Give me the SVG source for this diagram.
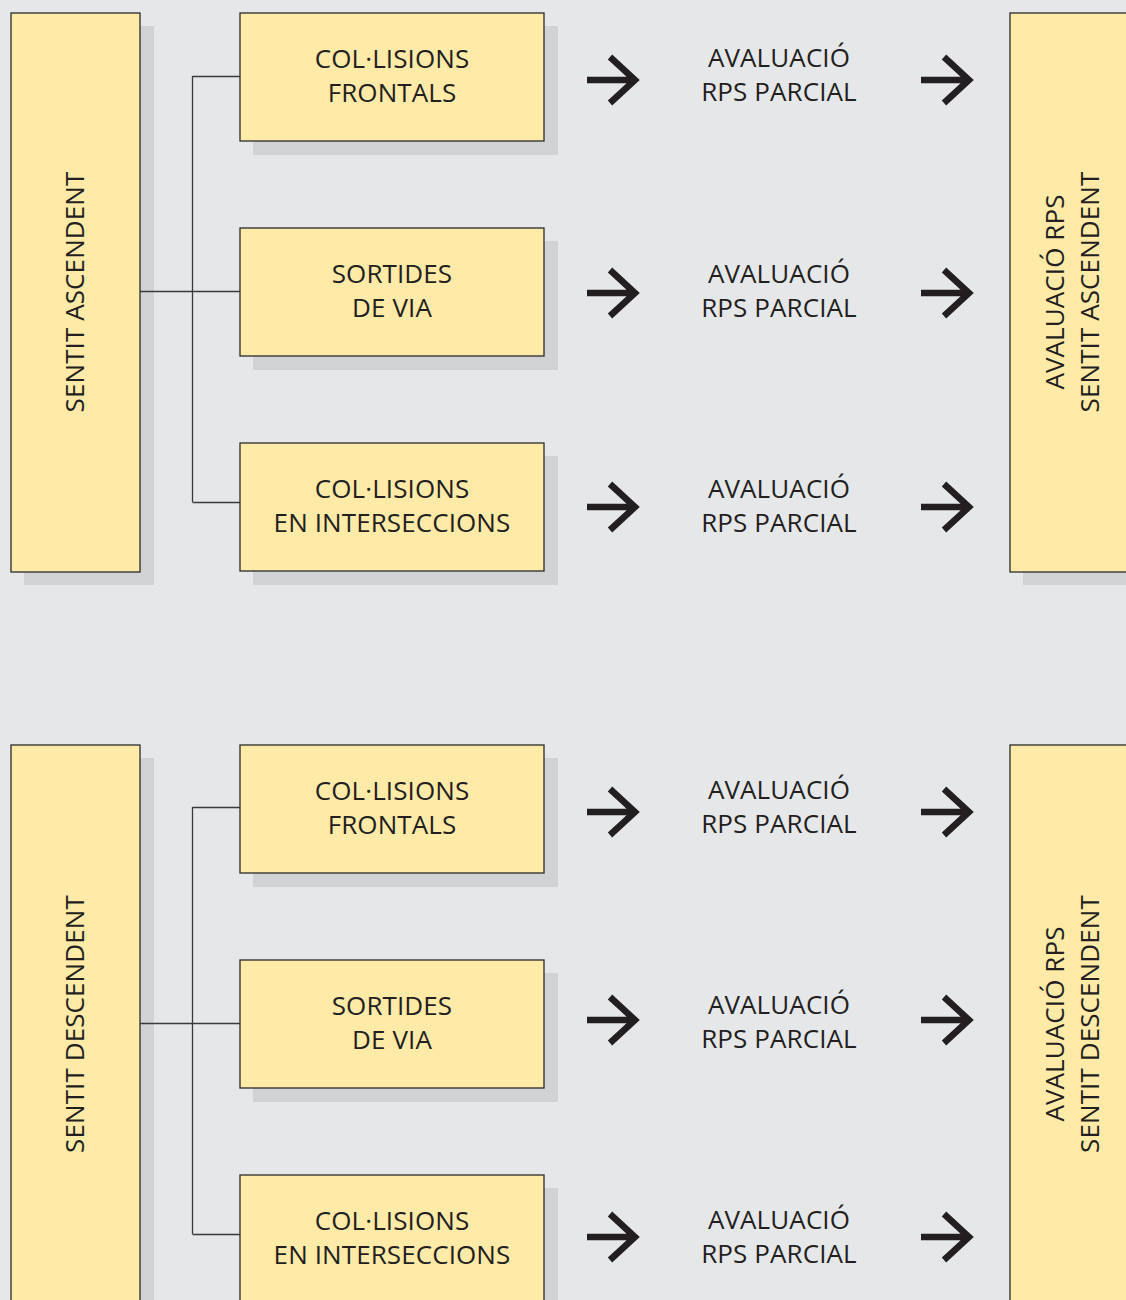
<svg xmlns="http://www.w3.org/2000/svg" width="1126" height="1300" viewBox="0 0 1126 1300">
<defs>
<style>
.bg{fill:#e6e7e9}
.sh{fill:#d1d2d4}
.bx{fill:#ffeaa8;stroke:#2a2a2a;stroke-width:1.3}
.t{font-family:"Open Sans","Liberation Sans",sans-serif;font-size:26px;letter-spacing:0.1px;fill:#231f20;text-anchor:middle}
.ln{fill:none;stroke:#3a3a3a;stroke-width:1.3}
.ar{fill:none;stroke:#231f20;stroke-width:6.5}
</style>
<g id="arr">
<path class="ar" d="M0 0 H48 M23 -23 L48 0 L23 23"/>
</g>
</defs>
<rect class="bg" x="0" y="0" width="1126" height="1300"/>

<g id="section-asc">
<g id="asc-left">
<rect class="sh" x="24" y="26" width="130" height="559"/>
<rect class="bx" x="11" y="13" width="129" height="559"/>
<text class="t" transform="translate(84,292) rotate(-90)">SENTIT ASCENDENT</text>
</g>
<g id="asc-frontals">
<rect class="sh" x="253" y="26" width="305" height="129"/>
<rect class="bx" x="240" y="13" width="304" height="128"/>
<text class="t" x="392" y="68">COL·LISIONS</text>
<text class="t" x="392" y="102">FRONTALS</text>
</g>
<g id="asc-sortides">
<rect class="sh" x="253" y="241" width="305" height="129"/>
<rect class="bx" x="240" y="228" width="304" height="128"/>
<text class="t" x="392" y="283">SORTIDES</text>
<text class="t" x="392" y="317">DE VIA</text>
</g>
<g id="asc-inter">
<rect class="sh" x="253" y="456" width="305" height="129"/>
<rect class="bx" x="240" y="443" width="304" height="128"/>
<text class="t" x="392" y="498">COL·LISIONS</text>
<text class="t" x="392" y="532">EN INTERSECCIONS</text>
</g>
<g id="asc-eval1"><text class="t" x="779" y="67">AVALUACIÓ</text><text class="t" x="779" y="101">RPS PARCIAL</text></g>
<g id="asc-eval2"><text class="t" x="779" y="283">AVALUACIÓ</text><text class="t" x="779" y="317">RPS PARCIAL</text></g>
<g id="asc-eval3"><text class="t" x="779" y="498">AVALUACIÓ</text><text class="t" x="779" y="532">RPS PARCIAL</text></g>
<g id="asc-right">
<rect class="sh" x="1023" y="26" width="110" height="559"/>
<rect class="bx" x="1010" y="13" width="130" height="559"/>
<text class="t" transform="translate(1064,292) rotate(-90)">AVALUACIÓ RPS</text>
<text class="t" transform="translate(1099,292) rotate(-90)">SENTIT ASCENDENT</text>
</g>
</g>

<g id="section-desc">
<g id="desc-left">
<rect class="sh" x="24" y="758" width="130" height="559"/>
<rect class="bx" x="11" y="745" width="129" height="559"/>
<text class="t" transform="translate(84,1024) rotate(-90)">SENTIT DESCENDENT</text>
</g>
<g id="desc-frontals">
<rect class="sh" x="253" y="758" width="305" height="129"/>
<rect class="bx" x="240" y="745" width="304" height="128"/>
<text class="t" x="392" y="800">COL·LISIONS</text>
<text class="t" x="392" y="834">FRONTALS</text>
</g>
<g id="desc-sortides">
<rect class="sh" x="253" y="973" width="305" height="129"/>
<rect class="bx" x="240" y="960" width="304" height="128"/>
<text class="t" x="392" y="1015">SORTIDES</text>
<text class="t" x="392" y="1049">DE VIA</text>
</g>
<g id="desc-inter">
<rect class="sh" x="253" y="1188" width="305" height="129"/>
<rect class="bx" x="240" y="1175" width="304" height="128"/>
<text class="t" x="392" y="1230">COL·LISIONS</text>
<text class="t" x="392" y="1264">EN INTERSECCIONS</text>
</g>
<g id="desc-eval1"><text class="t" x="779" y="799">AVALUACIÓ</text><text class="t" x="779" y="833">RPS PARCIAL</text></g>
<g id="desc-eval2"><text class="t" x="779" y="1014">AVALUACIÓ</text><text class="t" x="779" y="1048">RPS PARCIAL</text></g>
<g id="desc-eval3"><text class="t" x="779" y="1229">AVALUACIÓ</text><text class="t" x="779" y="1263">RPS PARCIAL</text></g>
<g id="desc-right">
<rect class="sh" x="1023" y="758" width="110" height="559"/>
<rect class="bx" x="1010" y="745" width="130" height="559"/>
<text class="t" transform="translate(1064,1024) rotate(-90)">AVALUACIÓ RPS</text>
<text class="t" transform="translate(1099,1024) rotate(-90)">SENTIT DESCENDENT</text>
</g>
</g>

<g id="connectors">
<path class="ln" d="M140 291.5 H240 M192.5 76 V502 M192.5 76.5 H240 M192.5 502.5 H240"/>
<path class="ln" d="M140 1023.5 H240 M192.5 807 V1234 M192.5 807.5 H240 M192.5 1234.5 H240"/>
<use href="#arr" x="587" y="80"/>
<use href="#arr" x="921" y="80"/>
<use href="#arr" x="587" y="293"/>
<use href="#arr" x="921" y="293"/>
<use href="#arr" x="587" y="507"/>
<use href="#arr" x="921" y="507"/>
<use href="#arr" x="587" y="812"/>
<use href="#arr" x="921" y="812"/>
<use href="#arr" x="587" y="1020"/>
<use href="#arr" x="921" y="1020"/>
<use href="#arr" x="587" y="1237"/>
<use href="#arr" x="921" y="1237"/>
</g>
</svg>
